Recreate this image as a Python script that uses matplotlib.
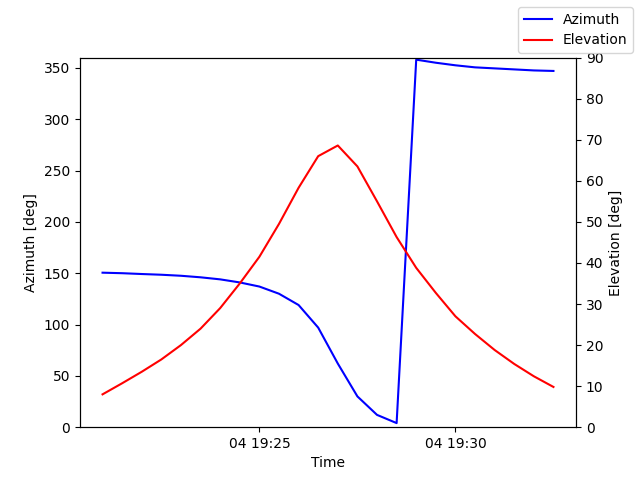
import matplotlib
matplotlib.use("Agg")
import matplotlib.pyplot as plt
import matplotlib.dates as mdates
import pandas as pd

times = pd.date_range("2024-01-04 19:21:00", "2024-01-04 19:32:30", freq="30s")
azimuth = [150.5, 150, 149.2, 148.5, 147.5, 146, 144, 141, 137, 130, 119, 97, 62, 30, 12, 4,
           358, 355, 352.5, 350.5, 349.5, 348.5, 347.5, 347]
elevation = [8, 10.7, 13.5, 16.5, 20, 24, 29, 35, 41.5, 49.5, 58.3, 66, 68.6, 63.5, 55, 46.3,
             38.8, 32.7, 27, 22.7, 18.8, 15.4, 12.4, 9.8]

fig, ax = plt.subplots(figsize=(6.4, 4.8), dpi=100)
l1, = ax.plot(times, azimuth, color="blue", label="Azimuth")
ax.set_ylim(0, 360)
ax.set_ylabel("Azimuth [deg]")
ax.set_xlabel("Time")
ax2 = ax.twinx()
l2, = ax2.plot(times, elevation, color="red", label="Elevation")
ax2.set_ylim(0, 90)
ax2.set_ylabel("Elevation [deg]")
ax.xaxis.set_major_locator(mdates.MinuteLocator(byminute=[25, 30]))
ax.xaxis.set_major_formatter(mdates.DateFormatter("%d %H:%M"))
fig.legend(handles=[l1, l2], loc="upper right")
fig.savefig("out.png")
